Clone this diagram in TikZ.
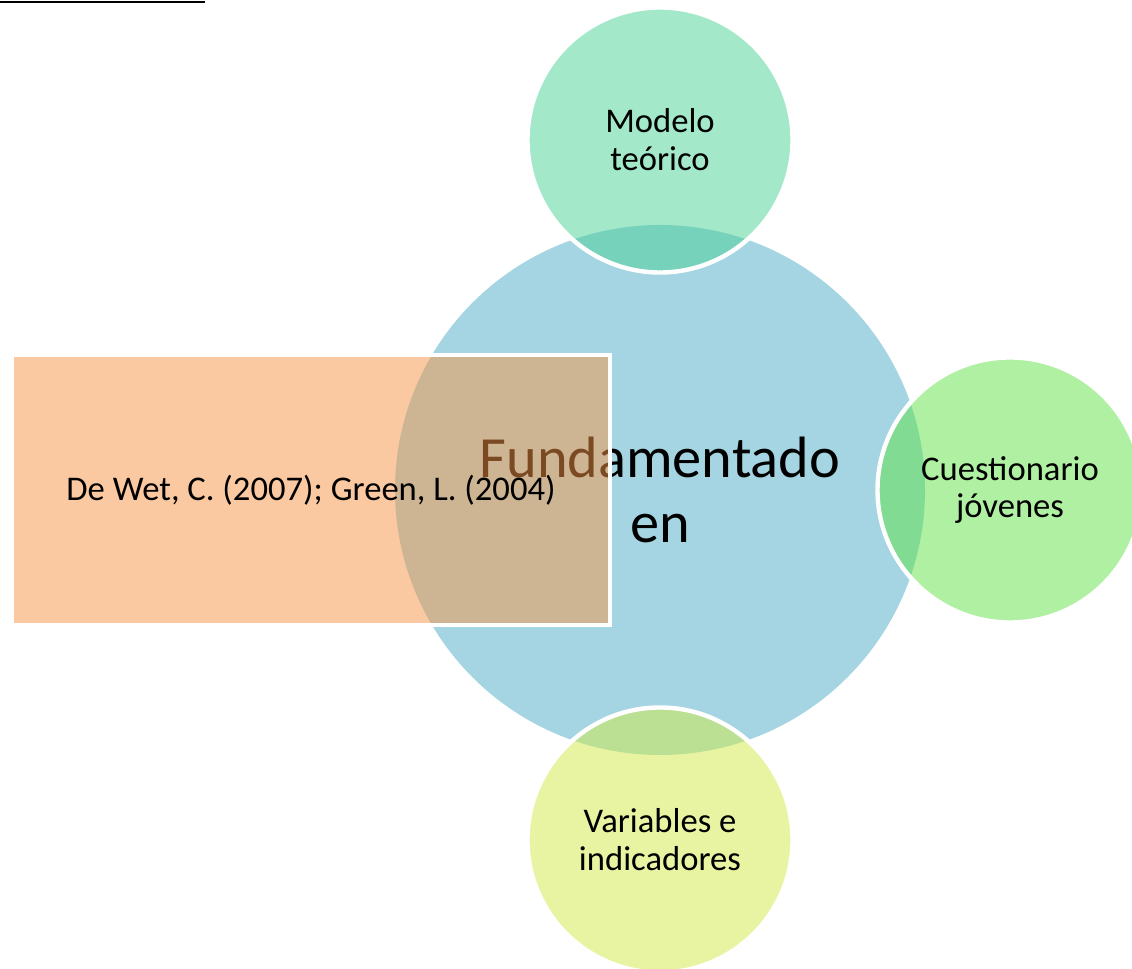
\documentclass[tikz,border=0pt]{standalone}
\usepackage{fontspec}
\setmainfont{Carlito}
\usetikzlibrary{calc}
\definecolor{CentroAzul}{RGB}{165,213,226}
\definecolor{ModeloVerde}{RGB}{73,209,149}
\definecolor{CuestVerde}{RGB}{97,225,69}
\definecolor{VarAmarillo}{RGB}{209,233,69}
\definecolor{FuenteNaranja}{RGB}{246,148,68}

\begin{document}
\begin{tikzpicture}
    \tikzset{Bubble/.style= {circle,
        draw         = white,
        line width   = 2.5pt,
        minimum size = 5.3cm,
        inner sep    = 0pt,
        fill opacity = 0.5,
        text opacity = 1,
        align        = center,
        font         = \fontsize{19.7}{21.5}\selectfont},
      Centre/.style = {circle, fill=CentroAzul, minimum size=10.6cm,
        align=center, font=\fontsize{33.2}{37}\selectfont}}
    \useasboundingbox (0,0) rectangle (22.64,19.38);

    \coordinate (LineaA) at (0,19.34);
    \coordinate (LineaB) at (4.1,19.34);
    \draw[line width=1.6pt] (LineaA) -- (LineaB);

    \node[Centre] (Centro) at (13.2,9.58) {Fundamentado\\en};

    \node[Bubble, fill=ModeloVerde] (Modelo) at ($(Centro) + (0,7)$) {Modelo\\teórico};
    \node[Bubble, fill=CuestVerde] (Cuestionario) at ($(Centro) + (7,0)$) {Cuestionario\\jóvenes};
    \node[Bubble, fill=VarAmarillo] (Variables) at ($(Centro) - (0,7)$) {Variables e\\indicadores};

    \node[rectangle, draw=white, line width=2.5pt, fill=FuenteNaranja,
      fill opacity=0.5, text opacity=1, minimum width=11.96cm, minimum height=5.4cm,
      font=\fontsize{19.7}{21.5}\selectfont] (Fuentes) at (6.22,9.58) {De Wet, C. (2007); Green, L. (2004)};
  \end{tikzpicture}
\end{document}
